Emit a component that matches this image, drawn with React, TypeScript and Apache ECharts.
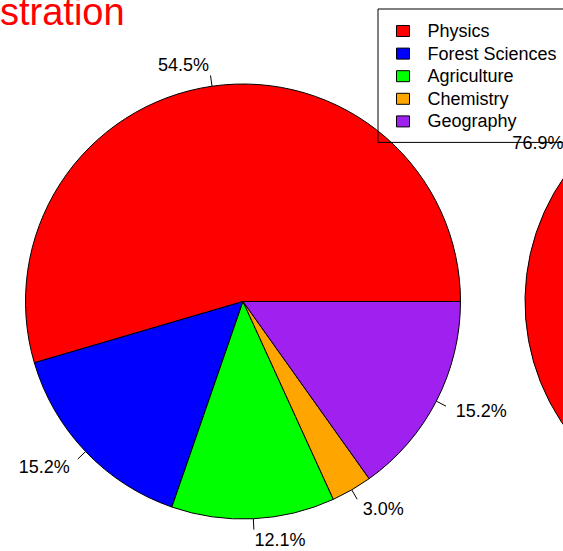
import React, { useEffect, useRef } from "react";
import * as echarts from "echarts";

const categories = ["Physics", "Forest Sciences", "Agriculture", "Chemistry", "Geography"];
const leftCounts = [18, 5, 4, 1, 5];
const rightCounts = [10, 1, 1, 0, 1];
const sliceColors = ["#FF0000", "#0000FF", "#00FF00", "#FFA500", "#A020F0"];
const titleText = "stration";

const FONT = "'Liberation Sans', Arial, Helvetica, sans-serif";

const pct = (v: number, arr: number[]) => {
  const s = arr.reduce((a, b) => a + b, 0);
  return ((v / s) * 100).toFixed(1) + "%";
};

export default function App() {
  const ref = useRef<HTMLDivElement>(null);
  useEffect(() => {
    if (!ref.current) return;
    const chart = echarts.init(ref.current, undefined, { renderer: "svg" });
    const R = 217.5;
    const leftCenter = [243, 301.5];
    const rightCenter = [742.5, 301.5];
    const common = {
      type: "pie" as const,
      radius: R,
      startAngle: 0,
      clockwise: false,
      avoidLabelOverlap: false,
      emphasis: { disabled: true },
    };
    chart.setOption({
      animation: false,
      color: sliceColors,
      textStyle: { fontFamily: FONT },
      graphic: [
        {
          type: "text",
          left: 0,
          top: -7,
          style: {
            text: titleText,
            fill: "#FF0000",
            font: `38px ${FONT}`,
          },
        },
      ],
      legend: {
        orient: "vertical",
        left: 378,
        top: 9,
        data: categories,
        icon: "rect",
        itemWidth: 13,
        itemHeight: 11,
        itemGap: 4.6,
        borderColor: "#000",
        borderWidth: 1,
        borderRadius: 0,
        padding: [13, 18, 12, 18],
        selectedMode: false,
        itemStyle: { borderColor: "#000", borderWidth: 1 },
        textStyle: {
          fontSize: 18,
          color: "#000",
          fontFamily: FONT,
          lineHeight: 18,
          padding: [0, 0, 0, 13],
        },
      },
      series: [
        {
          ...common,
          name: "slices",
          center: leftCenter,
          itemStyle: { borderColor: "#000", borderWidth: 1 },
          label: { show: true, position: "outside", formatter: () => "" },
          labelLine: {
            show: true,
            length: R * 0.05,
            length2: 0,
            smooth: false,
            lineStyle: { color: "#000", width: 1 },
          },
          data: categories.map((c, i) => ({ name: c, value: leftCounts[i] })),
        },
        {
          ...common,
          name: "labels",
          center: leftCenter,
          silent: true,
          itemStyle: { color: "rgba(0,0,0,0)", borderWidth: 0 },
          label: {
            show: true,
            position: "outside",
            distanceToLabelLine: 0,
            fontSize: 18,
            color: "#000",
            fontFamily: FONT,
            formatter: (p: any) => pct(p.value, leftCounts),
          },
          labelLine: { show: false, length: R * 0.1, length2: 0 },
          data: categories.map((c, i) => ({ name: c, value: leftCounts[i] })),
        },
        {
          ...common,
          name: "right",
          center: rightCenter,
          itemStyle: { borderColor: "#000", borderWidth: 1 },
          label: {
            show: true,
            position: "outside",
            distanceToLabelLine: 0,
            fontSize: 18,
            color: "#000",
            fontFamily: FONT,
            formatter: (p: any) => pct(p.value, rightCounts),
          },
          labelLine: { show: false, length: R * 0.1, length2: 0 },
          data: categories.map((c, i) => ({
            name: c,
            value: rightCounts[i],
            label: { show: i === 0 },
          })),
        },
      ],
    });
    return () => chart.dispose();
  }, []);
  return (
    <div
      ref={ref}
      style={{ position: "fixed", left: 0, top: 0, width: 563, height: 551, background: "#fff" }}
    />
  );
}
